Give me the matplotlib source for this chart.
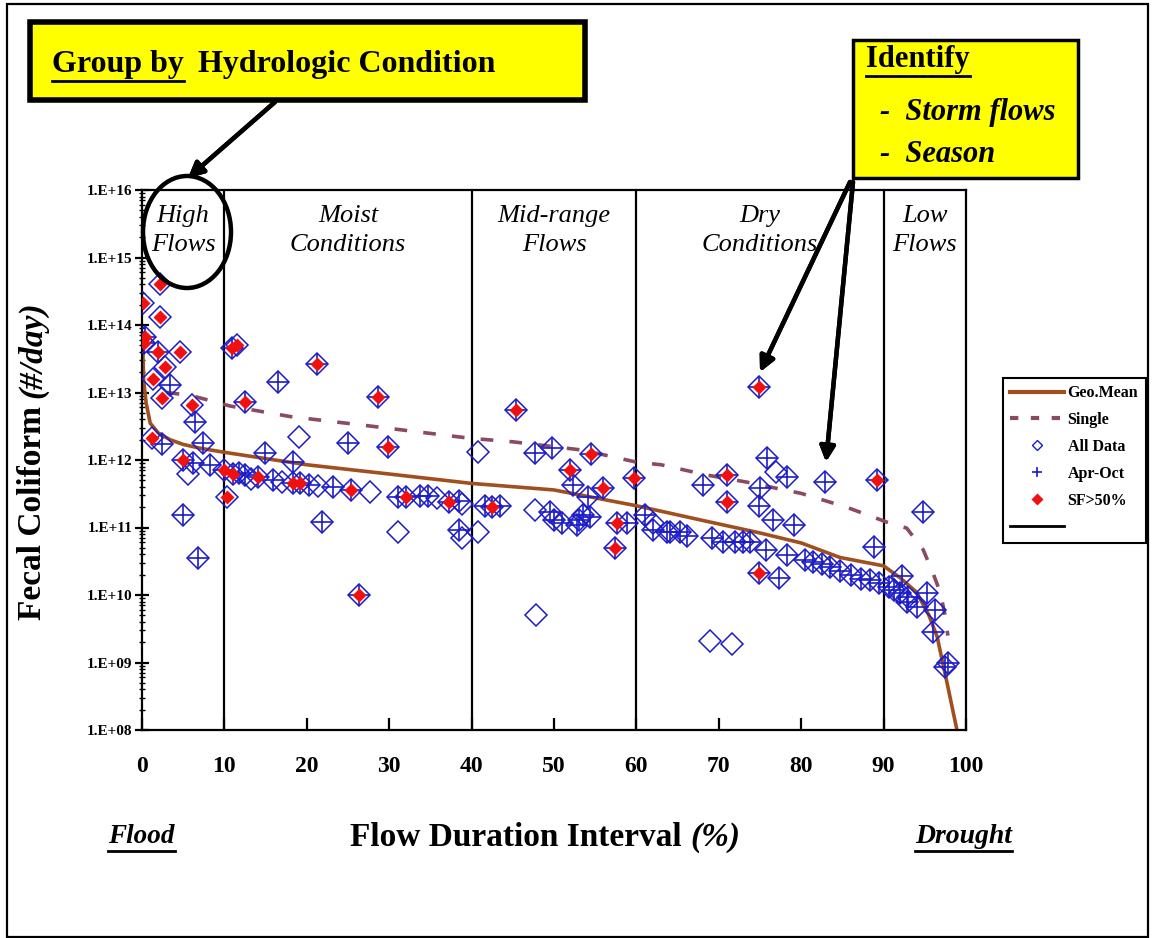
"""
Fecal coliform load duration curve - grouped by hydrologic condition.
"""
import numpy as np
import matplotlib
matplotlib.use("Agg")
import matplotlib.pyplot as plt
from matplotlib.patches import Rectangle, Ellipse
from matplotlib.lines import Line2D
from matplotlib.ticker import LogLocator, FuncFormatter, NullFormatter

plt.rcParams['font.family'] = ['Liberation Serif', 'DejaVu Serif']

# ---- data ----
geo_x = [0.1, 0.2, 0.5, 1, 2, 3.4, 5, 7, 10, 15, 20, 30, 40, 50, 60, 67.7, 75, 80,
         84.7, 90, 92, 94, 95.5, 96.5, 97.7, 98.9]
geo_y = [4.3e13, 1.5e13, 7e12, 3.5e12, 2.5e12, 2.0e12, 1.7e12, 1.5e12, 1.3e12, 1.05e12,
         8.5e11, 6.2e11, 4.5e11, 3.6e11, 2.1e11, 1.3e11, 8.3e10, 5.9e10,
         3.6e10, 2.7e10, 1.8e10, 1.1e10, 5e9, 2.4e9, 5e8, 1e8]

single_x = [3, 6, 10.7, 18, 28.5, 39.8, 45, 53.5, 60, 63, 68.5, 73.4, 80, 85.5,
            90.4, 92.8, 94.8, 96, 96.9, 97.5, 97.8]
single_y = [1.0e13, 9e12, 6.3e12, 4.4e12, 3.1e12, 2.1e12, 1.86e12, 1.4e12, 9.3e11,
            8.5e11, 6.0e11, 4.7e11, 3.2e11, 2.0e11, 1.2e11, 9.8e10, 4.7e10, 2.1e10,
            1.07e10, 4.7e9, 2.5e9]

# observations: flow interval, load, Apr-Oct flag, SF>50% flag
obs_x = [2.2, 0.1, 2.2, 0.4, 0.2, 1.9, 4.6, 2.8, 1.3, 3.4, 2.4, 6.1, 6.4, 1.2, 2.4, 7.4,
         5.0, 6.2, 5.6, 8.2, 5.0, 6.8, 9.9, 11.0, 10.3, 10.9, 11.5, 12.5, 16.5, 19.0,
         14.9, 18.3, 11.8, 12.5, 14.1, 15.9, 18.3, 19.2, 13.2, 17.0,
         21.2, 28.6, 25.0, 29.9, 21.8, 26.3, 21.4, 23.2, 25.4, 27.7, 20.3, 31.1, 32.0,
         31.1, 33.7, 34.7, 35.8, 37.3, 38.5, 38.8, 38.5, 38.8, 40.8, 40.8, 41.6, 42.5,
         43.4,
         45.4, 47.7, 49.8, 47.7, 49.5, 51.0, 47.8, 51.9, 54.5, 52.3, 54.1, 55.9, 53.5,
         54.4, 52.8, 57.6, 58.9, 57.4, 59.7, 50.0, 53.0,
         61.0, 62.0, 62.0, 63.7, 64.1, 65.3, 66.1, 69.2, 70.5, 72.0, 72.9, 73.8, 68.1,
         71.0, 71.0, 74.9, 75.8, 77.0, 78.3, 75.0, 74.9, 76.6, 79.1, 75.7, 74.9, 77.3,
         78.3, 82.9, 89.2, 88.8, 80.5, 81.4, 82.5, 83.5, 84.7, 68.9, 71.6,
         87.3, 88.4, 89.4, 90.6, 91.3, 92.2, 92.0, 93.0, 94.0, 95.3, 96.2, 96.0, 97.8,
         97.5, 94.8, 86.0, 92.8]
obs_y = [4.1e14, 2.1e14, 1.3e14, 6.6e13, 5.5e13, 4.0e13, 4.0e13, 2.4e13, 1.6e13, 1.3e13,
         8.3e12, 6.5e12, 3.6e12, 2.1e12, 1.7e12, 1.8e12, 1.0e12, 8.9e11, 6.3e11, 8.5e11,
         1.55e11, 3.55e10, 7.1e11, 6.3e11, 2.8e11, 4.6e13, 5.0e13, 7.2e12, 1.45e13, 2.2e12,
         1.26e12, 9.3e11, 6.5e11, 6.0e11, 5.6e11, 5.0e11, 4.6e11, 4.6e11, 5.3e11, 4.8e11,
         2.6e13, 8.5e12, 1.8e12, 1.55e12, 1.2e11, 1.0e10, 4.1e11, 4.0e11, 3.6e11, 3.4e11,
         4.3e11, 8.5e10, 2.8e11, 2.8e11, 2.9e11, 2.9e11, 2.7e11, 2.4e11, 2.5e11, 2.2e11,
         9.1e10, 6.9e10, 1.3e12, 8.5e10, 2.1e11, 2.0e11, 2.1e11,
         5.5e12, 1.26e12, 1.5e12, 1.8e11, 1.7e11, 1.17e11, 5.0e9, 7.1e11, 1.23e12, 4.3e11,
         2.8e11, 3.8e11, 1.55e11, 1.45e11, 1.1e11, 1.17e11, 1.15e11, 5.0e10, 5.4e11,
         1.3e11, 1.3e11,
         1.55e11, 1.17e11, 9.1e10, 8.5e10, 8.5e10, 8.5e10, 7.5e10, 6.9e10, 6.2e10, 6.2e10,
         6.0e10, 6.0e10, 4.3e11, 6.0e11, 2.4e11, 1.2e13, 1.07e12, 6.6e11, 5.6e11, 3.8e11,
         2.1e11, 1.3e11, 1.1e11, 4.7e10, 2.1e10, 1.8e10, 3.9e10, 4.7e11, 5.0e11, 5.1e10,
         3.3e10, 3.1e10, 2.9e10, 2.6e10, 2.3e10, 2.1e9, 1.9e9,
         1.7e10, 1.65e10, 1.5e10, 1.3e10, 1.2e10, 1.9e10, 1.07e10, 9.5e9, 6.6e9, 1.07e10,
         6.0e9, 2.8e9, 9.8e8, 8.5e8, 1.7e11, 2.0e10, 8.0e9]
obs_apr = [0, 0, 0, 1, 1, 1, 0, 0, 0, 1, 0, 0, 1, 0, 1, 1, 1, 1, 0, 1, 1, 1, 1, 1, 0,
           1, 0, 1, 1, 0, 1, 1, 1, 1, 1, 1, 1, 1, 0, 0,
           1, 1, 1, 1, 1, 1, 0, 1, 1, 0, 1, 0, 1, 1, 1, 1, 0, 1, 1, 0, 1, 0, 0, 0, 1, 1, 1,
           1, 1, 1, 0, 1, 1, 0, 1, 1, 1, 1, 1, 1, 1, 1, 1, 1, 1, 1, 1, 1,
           1, 0, 1, 1, 1, 1, 1, 1, 1, 1, 1, 1, 1, 1, 1, 1, 1, 0, 1, 1, 1, 1, 1, 1, 1, 1,
           1, 1, 1, 1, 1, 1, 1, 1, 1, 0, 0,
           1, 1, 1, 1, 1, 1, 1, 1, 1, 1, 1, 1, 1, 1, 1, 1, 1]
obs_sf = [1, 1, 1, 1, 1, 1, 1, 1, 1, 0, 1, 1, 0, 1, 0, 0, 1, 0, 0, 0, 0, 0, 1, 1, 1,
          1, 1, 1, 0, 0, 0, 0, 0, 0, 1, 0, 1, 1, 0, 0,
          1, 1, 0, 1, 0, 1, 0, 0, 1, 0, 0, 0, 1, 0, 0, 0, 0, 1, 0, 0, 0, 0, 0, 0, 0, 1, 0,
          1, 0, 0, 0, 0, 0, 0, 1, 1, 0, 0, 1, 0, 0, 0, 1, 0, 1, 1, 0, 0,
          0, 0, 0, 0, 0, 0, 0, 0, 0, 0, 0, 0, 0, 1, 1, 1, 0, 0, 0, 0, 0, 0, 0, 0, 1, 0,
          0, 0, 1, 0, 0, 0, 0, 0, 0, 0, 0,
          0, 0, 0, 0, 0, 0, 0, 0, 0, 0, 0, 0, 0, 0, 0, 0, 0]

zone_bounds = [10, 40, 60, 90]
zone_x = [5, 25, 50, 75, 95]
zone_names = ['High\nFlows', 'Moist\nConditions', 'Mid-range\nFlows', 'Dry\nConditions', 'Low\nFlows']

x_ticks = list(range(0, 101, 10))
y_decades = [1e8, 1e9, 1e10, 1e11, 1e12, 1e13, 1e14, 1e15, 1e16]

# ---- figure ----
W, H = 1153, 938
def fx(px): return px / W
def fy(py): return 1 - py / H

fig = plt.figure(figsize=(W / 100, H / 100), dpi=100)
fig.add_artist(Rectangle((fx(7), fy(937)), fx(1148) - fx(7), fy(4) - fy(937),
                         transform=fig.transFigure, fill=False, ec='black', lw=1.6))

ax = fig.add_axes([fx(142), fy(730), fx(966) - fx(142), fy(190) - fy(730)])

blue = '#1c1cc8'
obs_x = np.array(obs_x); obs_y = np.array(obs_y)
apr = np.array(obs_apr, bool); sf = np.array(obs_sf, bool)

ax.plot(obs_x, obs_y, ls='none', marker='D', ms=11.5, mfc='none', mec=blue, mew=1.1, zorder=3)
ax.plot(obs_x[apr], obs_y[apr], ls='none', marker='+', ms=16, mec=blue, mew=1.2, zorder=4)
ax.plot(obs_x[sf], obs_y[sf], ls='none', marker='D', ms=7, mfc='#f01010', mec='none', zorder=5)

ax.plot(geo_x, geo_y, color='#a0501e', lw=2.6, zorder=2)
ax.plot(single_x, single_y, color='#8b4a62', lw=2.6, dashes=(3.5, 4.5), zorder=2)

for b in zone_bounds:
    ax.axvline(b, color='black', lw=1.6, zorder=1)
for x, name in zip(zone_x, zone_names):
    ax.text(x, 2.5e15, name, ha='center', va='center', fontsize=19, style='italic',
            linespacing=1.45)

ax.set_yscale('log')
ax.set_xlim(0, 100)
ax.set_ylim(1e8, 1e16)
ax.set_xticks(x_ticks)
ax.set_yticks(y_decades)
ax.yaxis.set_major_formatter(FuncFormatter(lambda v, p: f"1.E+{int(round(np.log10(v))):02d}"))
ax.yaxis.set_minor_locator(LogLocator(base=10, subs=np.arange(2, 10), numticks=20))
ax.yaxis.set_minor_formatter(NullFormatter())
ax.tick_params(axis='x', direction='in', length=9, width=1.6, pad=19, labelsize=17)
ax.tick_params(axis='y', which='major', direction='inout', length=10, width=1.6, pad=2,
               labelsize=11)
ax.tick_params(axis='y', which='minor', direction='inout', length=4, width=1)
for lab in ax.get_xticklabels() + ax.get_yticklabels():
    lab.set_fontweight('bold')
for s in ax.spines.values():
    s.set_linewidth(1.6)

# legend
leg_handles = [
    Line2D([], [], color='#a0501e', lw=3),
    Line2D([], [], color='#8b4a62', lw=3, dashes=(2, 3)),
    Line2D([], [], ls='none', marker='D', ms=5, mfc='none', mec=blue, mew=1),
    Line2D([], [], ls='none', marker='+', ms=7, mec=blue, mew=1.2),
    Line2D([], [], ls='none', marker='D', ms=6, mfc='#f01010', mec='none'),
    Line2D([], [], color='black', lw=2),
]
leg_labels = ['Geo.Mean', 'Single', 'All Data', 'Apr-Oct', 'SF>50%', '']
leg = fig.legend(leg_handles, leg_labels, loc='upper left',
                 bbox_to_anchor=(fx(1003), fy(378)), bbox_transform=fig.transFigure,
                 prop={'size': 11.5, 'weight': 'bold'}, handlelength=3.4, handletextpad=0.2,
                 labelspacing=0.68, borderpad=0.45, borderaxespad=0, fancybox=False,
                 edgecolor='black', framealpha=1)
leg.get_frame().set_linewidth(1.5)

# yellow call-out boxes
fig.add_artist(Rectangle((fx(30), fy(100)), fx(585) - fx(30), fy(22) - fy(100),
                         transform=fig.transFigure, fc='#ffff00', ec='black', lw=4))
fig.add_artist(Rectangle((fx(853), fy(178)), fx(1078) - fx(853), fy(40) - fy(178),
                         transform=fig.transFigure, fc='#ffff00', ec='black', lw=2.5))

t_group = fig.text(fx(52), fy(72), 'Group by', fontsize=23, weight='bold')
fig.text(fx(198), fy(72), 'Hydrologic Condition', fontsize=23, weight='bold')
t_ident = fig.text(fx(866), fy(67), 'Identify', fontsize=22, weight='bold')
fig.text(fx(880), fy(120), '-  Storm flows', fontsize=22, weight='bold', style='italic')
fig.text(fx(880), fy(162), '-  Season', fontsize=22, weight='bold', style='italic')

# circle round the high-flow zone and arrows
fig.add_artist(Ellipse((fx(187), fy(232)), fx(88), 112 / H, transform=fig.transFigure,
                       fill=False, ec='black', lw=3.2))
arrow = dict(arrowstyle='-|>,head_length=0.9,head_width=0.45', color='black', lw=3.2,
             shrinkA=0, shrinkB=0)
for start, end in [((275, 102), (188, 178)), ((850, 182), (760, 372)), ((853, 182), (826, 462))]:
    fig.add_artist(plt.annotate('', xy=(fx(end[0]), fy(end[1])), xycoords='figure fraction',
                                xytext=(fx(start[0]), fy(start[1])), textcoords='figure fraction',
                                arrowprops=arrow))

# axis titles
t_flood = fig.text(fx(108), fy(843), 'Flood', fontsize=19.5, weight='bold', style='italic')
t_drought = fig.text(fx(915), fy(843), 'Drought', fontsize=20, weight='bold', style='italic')

fig.canvas.draw()
rend = fig.canvas.get_renderer()

x1 = fig.text(fx(350), fy(846), 'Flow Duration Interval ', fontsize=24, weight='bold')
bb = x1.get_window_extent(rend)
fig.text(bb.x1 / W, fy(846), '(%)', fontsize=24, weight='bold', style='italic')

y1 = fig.text(fx(41), fy(620), 'Fecal Coliform ', fontsize=24, weight='bold', rotation=90,
              rotation_mode='anchor', ha='left', va='baseline')
bb = y1.get_window_extent(rend)
fig.text(fx(41), bb.y1 / H, '(#/day)', fontsize=24, weight='bold', style='italic',
         rotation=90, rotation_mode='anchor', ha='left', va='baseline')

def underline(t, off=2, lw=2):
    b = t.get_window_extent(rend)
    fig.add_artist(Line2D([b.x0 / W, b.x1 / W], [(b.y0 - off) / H] * 2,
                          transform=fig.transFigure, color='black', lw=lw))

for t in [t_group, t_ident, t_flood, t_drought]:
    underline(t)

fig.savefig('out.png', dpi=100)
